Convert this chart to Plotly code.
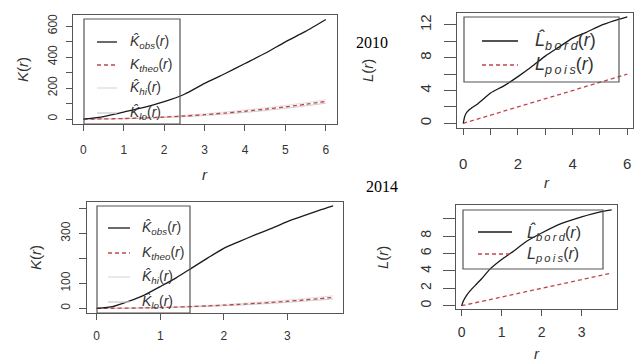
import plotly.graph_objects as go

W, H = 634, 362

# ---------------- data ----------------
r_k10 = [0, 0.5, 1, 1.5, 2, 2.5, 3, 3.5, 4, 4.5, 5, 5.5, 6]
k_obs10 = [0, 16, 45, 75, 112, 160, 230, 292, 358, 424, 498, 565, 642]
k_theo10 = [0, 0.79, 3.14, 7.07, 12.57, 19.63, 28.27, 38.48, 50.27, 63.62, 78.54, 95.03, 113.1]
k_hi10 = [0, 1.2, 4.5, 9.5, 16, 24, 34, 45, 58, 72, 88, 105, 124]
k_lo10 = [0, 0.4, 2, 5, 9.5, 15.5, 23, 32, 43, 55, 69, 85, 102]

r_l10 = [0, 0.05, 0.1, 0.2, 0.3, 0.5, 0.75, 1, 1.5, 2, 2.5, 3, 3.5, 4, 4.5, 5, 5.5, 6]
l_bord10 = [0, 0.8, 1.2, 1.6, 1.85, 2.3, 3.0, 3.7, 4.6, 5.7, 6.9, 8.2, 9.3, 10.4, 11.1, 11.9, 12.5, 13.0]
r_pois10 = [0, 6]
l_pois10 = [0, 6]

r_k14 = [0, 0.25, 0.5, 0.75, 1, 1.25, 1.5, 1.75, 2, 2.25, 2.5, 2.75, 3, 3.25, 3.5, 3.72]
k_obs14 = [0, 7, 28, 53, 87, 122, 162, 202, 240, 268, 295, 320, 347, 370, 392, 410]
k_theo14 = [0, 0.2, 0.79, 1.77, 3.14, 4.91, 7.07, 9.62, 12.57, 15.9, 19.6, 23.8, 28.3, 33.2, 38.5, 43.5]
k_hi14 = [0, 0.35, 1.2, 2.5, 4.2, 6.3, 8.8, 11.8, 15.2, 19.0, 23.2, 27.9, 33.0, 38.6, 44.4, 49.8]
k_lo14 = [0, 0.1, 0.5, 1.2, 2.3, 3.7, 5.5, 7.7, 10.2, 13.0, 16.3, 20.0, 24.0, 28.4, 33.1, 37.6]

r_l14 = [0, 0.05, 0.125, 0.25, 0.375, 0.5, 0.71, 1, 1.25, 1.625, 2, 2.5, 3, 3.5, 3.75]
l_bord14 = [0, 0.6, 1.2, 1.9, 2.5, 3.1, 4.2, 5.3, 6.1, 7.4, 8.35, 9.45, 10.2, 10.8, 11.0]
r_pois14 = [0, 3.72]
l_pois14 = [0, 3.72]

# tick values / labels
p1_xt = [0, 1, 2, 3, 4, 5, 6]; p1_xl = ["0", "1", "2", "3", "4", "5", "6"]
p1_yt = [0, 100, 200, 300, 400, 500, 600]; p1_yl = ["0", "", "200", "", "400", "", "600"]
p2_xt = [0, 1, 2, 3, 4, 5, 6]; p2_xl = ["0", "", "2", "", "4", "", "6"]
p2_yt = [0, 2, 4, 6, 8, 10, 12]; p2_yl = ["0", "", "4", "", "8", "", "12"]
p3_xt = [0, 1, 2, 3]; p3_xl = ["0", "1", "2", "3"]
p3_yt = [0, 100, 200, 300, 400]; p3_yl = ["0", "100", "", "300", ""]
p4_xt = [0, 1, 2, 3]; p4_xl = ["0", "1", "2", "3"]
p4_yt = [0, 2, 4, 6, 8, 10]; p4_yl = ["0", "2", "4", "6", "8", ""]

# ---------------- styling ----------------
BLACK = "#1a1a1a"
RED = "#c0454a"
HI = "#dedede"
LO = "#cccccc"
FRAME = "#555555"
TXT = "#333333"
SANS = "Liberation Sans, Arial, sans-serif"
SERIF = "Liberation Serif, Times New Roman, serif"


def fx(px):
    return px / W


def fy(py):
    return 1 - py / H


fig = go.Figure()

panels = [
    # (suffix, xdom px, ydom px, xrange, yrange, xt, xl, yt, yl, tickfont, ylen, xstand, ystand)
    ("", (73.3, 336.7), (15, 124), [-0.25, 6.27], [-32, 671], p1_xt, p1_xl, p1_yt, p1_yl, 12, 6, 9, 5),
    ("2", (456.7, 633.3), (12.7, 128.3), [-0.24, 6.22], [-0.61, 13.5], p2_xt, p2_xl, p2_yt, p2_yl, 15, 12, 16, 7),
    ("3", (87.3, 343.3), (201.7, 313.3), [-0.147, 3.88], [-20, 427], p3_xt, p3_xl, p3_yt, p3_yl, 12, 7, 5, 5),
    ("4", (456, 616.7), (205, 309.3), [-0.14, 3.875], [-0.41, 11.56], p4_xt, p4_xl, p4_yt, p4_yl, 14, 12, 4, 6),
]

for suf, xd, yd, xr, yr, xt, xl, yt, yl, tf, ylen, xs, ys in panels:
    common = dict(showline=True, mirror=True, linecolor=FRAME, linewidth=1,
                  showgrid=False, zeroline=False, ticks="outside", tickcolor=FRAME,
                  tickwidth=1, tickfont=dict(family=SANS, size=tf, color=TXT))
    fig.update_layout(**{
        "xaxis" + suf: dict(domain=[fx(xd[0]), fx(xd[1])], range=xr, tickvals=xt, ticktext=xl,
                            anchor="y" + suf, ticklen=6, ticklabelstandoff=xs, **common),
        "yaxis" + suf: dict(domain=[fy(yd[1]), fy(yd[0])], range=yr, tickvals=yt, ticktext=yl,
                            anchor="x" + suf, ticklen=ylen, tickangle=-90, ticklabelstandoff=ys, **common),
    })


def line(x, y, ax, color, dash="solid", width=1.3):
    fig.add_trace(go.Scatter(x=x, y=y, mode="lines", xaxis="x" + ax, yaxis="y" + ax,
                             line=dict(color=color, dash=dash, width=width, shape="spline", smoothing=0.6),
                             showlegend=False, hoverinfo="skip"))


# panel 1: K 2010
line(r_k10, k_hi10, "", HI, width=1)
line(r_k10, k_lo10, "", LO, width=1)
line(r_k10, k_theo10, "", RED, dash="4px,3px", width=1.3)
line(r_k10, k_obs10, "", BLACK)
# panel 2: L 2010
line(r_pois10, l_pois10, "2", RED, dash="4px,3px", width=1.3)
line(r_l10, l_bord10, "2", BLACK)
# panel 3: K 2014
line(r_k14, k_hi14, "3", HI, width=1)
line(r_k14, k_lo14, "3", LO, width=1)
line(r_k14, k_theo14, "3", RED, dash="4px,3px", width=1.3)
line(r_k14, k_obs14, "3", BLACK)
# panel 4: L 2014
line(r_pois14, l_pois14, "4", RED, dash="4px,3px", width=1.3)
line(r_l14, l_bord14, "4", BLACK)

shapes = []
annos = []


def rect(x0, y0, x1, y1):
    shapes.append(dict(type="rect", xref="paper", yref="paper", x0=fx(x0), x1=fx(x1),
                       y0=fy(y1), y1=fy(y0), line=dict(color=FRAME, width=1.2),
                       fillcolor="rgba(0,0,0,0)"))


def seg(x0, x1, y, color, dash="solid", width=1.3):
    shapes.append(dict(type="line", xref="paper", yref="paper", x0=fx(x0), x1=fx(x1),
                       y0=fy(y), y1=fy(y), line=dict(color=color, dash=dash, width=width)))


def text(x, y, s, size, xanchor="left", angle=0, family=SANS, color=TXT):
    annos.append(dict(xref="paper", yref="paper", x=fx(x), y=fy(y), text=s, showarrow=False,
                      xanchor=xanchor, yanchor="middle", textangle=angle,
                      font=dict(family=family, size=size, color=color)))


def khat(sub):
    return "<i>K\u0302</i><sub><i>%s</i></sub>(<i>r</i>)" % sub


def lab_theo():
    return "<i>K</i><sub><i>theo</i></sub>(<i>r</i>)"


T = "\u2009"

# legend panel 1
rect(84, 19, 180, 124)
rows1 = [(42, BLACK, "solid", khat("obs")), (65, RED, "4px,3px", lab_theo()),
         (88, HI, "solid", khat("hi")), (113, LO, "solid", khat("lo"))]
for y, c, d, s in rows1:
    seg(97, 117, y, c, d)
    text(128, y, s, 14)

# legend panel 3
rect(97, 206, 190, 313)
rows3 = [(228, BLACK, "solid", khat("obs")), (253, RED, "4px,3px", lab_theo()),
         (277, HI, "solid", khat("hi")), (302, LO, "solid", khat("lo"))]
for y, c, d, s in rows3:
    seg(108, 130, y, c, d)
    text(140, y, s, 14)

# legend panel 2
rect(464, 17, 619, 82)
seg(482, 518, 41, BLACK)
seg(482, 518, 65, RED, "4px,3px")
text(533, 41, "<i>L\u0302</i><sub><i>" + T.join("bord") + "</i></sub>(<i>r</i>)", 18)
text(533, 65, "<i>L</i><sub><i>" + T.join("pois") + "</i></sub>(<i>r</i>)", 18)

# legend panel 4
rect(463, 210, 603, 269)
seg(478, 512, 232, BLACK)
seg(478, 512, 254, RED, "4px,3px")
text(525, 232, "<i>L\u0302</i><sub><i>" + T.join("bord") + "</i></sub>(<i>r</i>)", 16)
text(525, 254, "<i>L</i><sub><i>" + T.join("pois") + "</i></sub>(<i>r</i>)", 16)

# axis titles
text(22, 70, "<i>K</i>(<i>r</i>)", 15, "center", -90)
text(205, 175, "<i>r</i>", 15, "center")
text(367, 70, "<i>L</i>(<i>r</i>)", 15, "center", -90)
text(547, 182, "<i>r</i>", 15, "center")
text(35, 258, "<i>K</i>(<i>r</i>)", 15, "center", -90)
text(382, 258, "<i>L</i>(<i>r</i>)", 15, "center", -90)
text(537, 353, "<i>r</i>", 15, "center")

# year labels
text(372, 43, "2010", 16, "center", family=SERIF, color="#000000")
text(382, 187, "2014", 16, "center", family=SERIF, color="#000000")

fig.update_layout(width=W, height=H, margin=dict(l=0, r=0, t=0, b=0),
                  paper_bgcolor="white", plot_bgcolor="white",
                  shapes=shapes, annotations=annos, showlegend=False)

fig.write_html("out.html", config={"displayModeBar": False},
               post_script="document.body.style.margin='0';document.body.style.padding='0';")
